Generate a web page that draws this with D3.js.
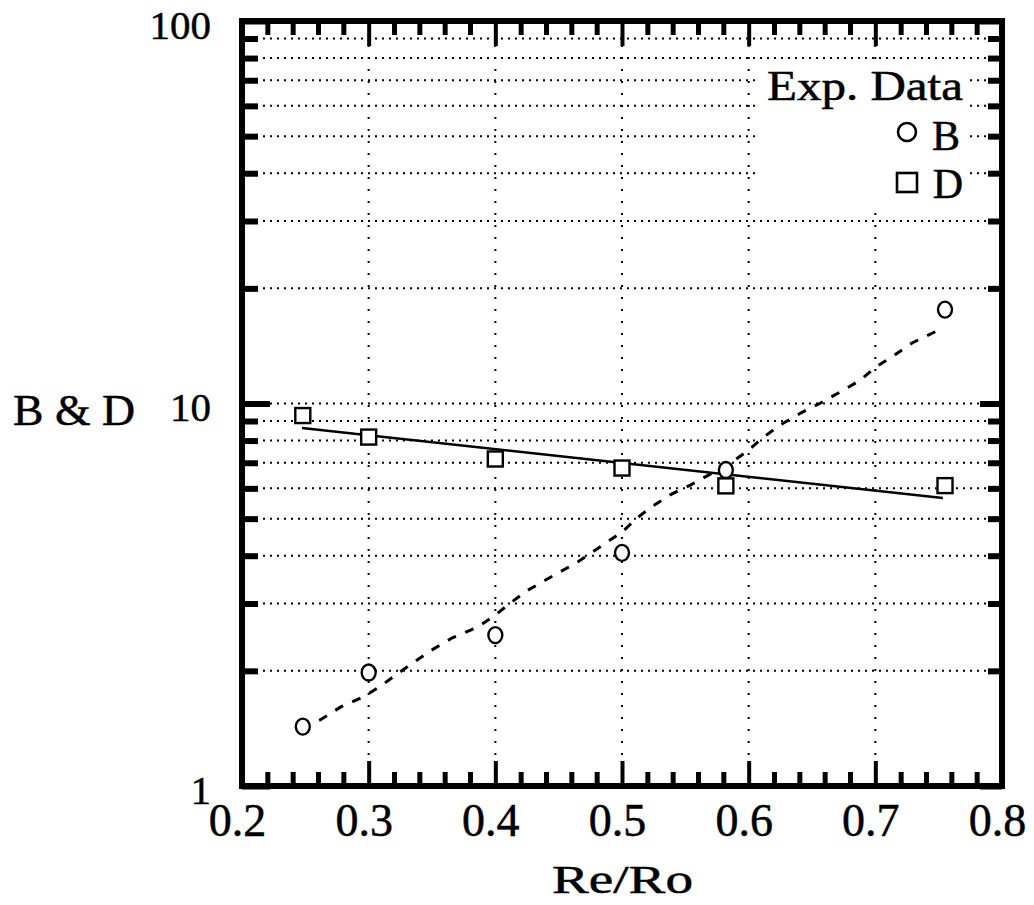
<!DOCTYPE html>
<html>
<head>
<meta charset="utf-8">
<script src="https://cdn.jsdelivr.net/npm/d3@7"></script>
<style>
  html, body { margin: 0; padding: 0; background: #fff; }
  svg { display: block; }
  text { font-family: "Liberation Serif", "Times New Roman", serif; fill: #000; stroke: #000; stroke-width: 0.5; }
</style>
</head>
<body>
<svg id="chart" width="1034" height="905"></svg>
<script>
// ---------------- data ----------------
const xMajorTicks = [0.2, 0.3, 0.4, 0.5, 0.6, 0.7, 0.8];
const xMinorTicks = [0.22, 0.24, 0.26, 0.28, 0.32, 0.34, 0.36, 0.38, 0.42, 0.44, 0.46, 0.48,
                     0.52, 0.54, 0.56, 0.58, 0.62, 0.64, 0.66, 0.68, 0.72, 0.74, 0.76, 0.78];
const xGridValues = [0.3, 0.4, 0.5, 0.6, 0.7];
const yMajorTicks = [1, 10, 100];
const yMinorTicks = [2, 3, 4, 5, 6, 7, 8, 9, 20, 30, 40, 50, 60, 70, 80, 90];
const yGridValues = [2, 3, 4, 5, 6, 7, 8, 9, 10, 20, 30, 40, 50, 60, 70, 80, 90];
const yTickLabels = ["1", "10", "100"];
const xTickLabels = ["0.2", "0.3", "0.4", "0.5", "0.6", "0.7", "0.8"];

// Experimental data
const reRo   = [0.248, 0.300, 0.400, 0.500, 0.582, 0.755];
const bValues = [1.43, 1.98, 2.48, 4.07, 6.70, 17.6];
const dValues = [9.30, 8.17, 7.16, 6.78, 6.09, 6.10];

// Fit curves
const bFitX = [0.255, 0.262, 0.278, 0.296, 0.311, 0.325, 0.337, 0.351, 0.366, 0.386, 0.400, 0.412,
               0.425, 0.440, 0.465, 0.485, 0.500, 0.512, 0.522, 0.538, 0.554, 0.587, 0.600, 0.611,
               0.625, 0.641, 0.656, 0.675, 0.688, 0.701, 0.714, 0.729, 0.749];
const bFitY = [1.46, 1.49, 1.61, 1.71, 1.84, 1.99, 2.12, 2.28, 2.44, 2.60, 2.80, 3.01,
               3.24, 3.46, 3.85, 4.27, 4.61, 5.02, 5.33, 5.77, 6.12, 7.03, 7.56, 8.13,
               8.79, 9.44, 10.0, 10.85, 11.5, 12.5, 13.3, 14.4, 15.5];
const dFitX = [0.2474, 0.7533];
const dFitY = [8.63, 5.66];

const xLabel = "Re/Ro";
const yLabel = "B & D";
const legendTitle = "Exp. Data";
const legendItems = ["B", "D"];

// ---------------- layout ----------------
const svg = d3.select("#chart");
const X0 = 242, X1 = 1002, Y0 = 21, Y1 = 786;
const x = d3.scaleLinear().domain([0.2, 0.8]).range([X0, X1]);
const y = d3.scaleLog().domain([1, 100]).range([Y1, Y0]);

// grid lines
const grid = svg.append("g");
grid.selectAll("line.h").data(yGridValues).join("line")
  .attr("x1", X0).attr("x2", X1)
  .attr("y1", d => y(d)).attr("y2", d => y(d))
  .attr("stroke", "#000").attr("stroke-width", 2)
  .attr("stroke-dasharray", "2,5");
grid.selectAll("line.v").data(xGridValues).join("line")
  .attr("x1", d => x(d)).attr("x2", d => x(d))
  .attr("y1", Y0).attr("y2", Y1)
  .attr("stroke", "#000").attr("stroke-width", 2)
  .attr("stroke-dasharray", "2,10");

// legend background (hides grid behind the legend)
svg.append("rect").attr("x", 755).attr("y", 62).attr("width", 213).attr("height", 143).attr("fill", "#fff");

// axes helper
function styleAxis(g, width) {
  g.select(".domain").remove();
  g.selectAll(".tick line").attr("stroke", "#000").attr("stroke-width", width).attr("stroke-linecap", "butt");
}

// bottom
svg.append("g").attr("transform", `translate(0,${Y1})`)
  .call(d3.axisBottom(x).tickValues(xMinorTicks).tickSize(-14).tickFormat(""))
  .call(g => styleAxis(g, 5));
const bottomMajor = svg.append("g").attr("transform", `translate(0,${Y1})`)
  .call(d3.axisBottom(x).tickValues(xMajorTicks).tickSize(-25).tickPadding(17)
        .tickFormat((d, i) => xTickLabels[i]))
  .call(g => styleAxis(g, 4));
bottomMajor.selectAll("text").attr("font-size", 46).attr("dx", -5)
  .style("font-family", "'Liberation Serif', serif");

// top
svg.append("g").attr("transform", `translate(0,${Y0})`)
  .call(d3.axisTop(x).tickValues(xMinorTicks).tickSize(-14).tickFormat(""))
  .call(g => styleAxis(g, 5));
svg.append("g").attr("transform", `translate(0,${Y0})`)
  .call(d3.axisTop(x).tickValues(xMajorTicks).tickSize(-25).tickFormat(""))
  .call(g => styleAxis(g, 4));

// left
svg.append("g").attr("transform", `translate(${X0},0)`)
  .call(d3.axisLeft(y).tickValues(yMinorTicks).tickSize(-16).tickFormat(""))
  .call(g => styleAxis(g, 6));
const leftMajor = svg.append("g").attr("transform", `translate(${X0},0)`)
  .call(d3.axisLeft(y).tickValues(yMajorTicks).tickSize(-28).tickPadding(31)
        .tickFormat((d, i) => yTickLabels[i]))
  .call(g => styleAxis(g, 6));
leftMajor.selectAll("text").attr("font-size", 41).attr("dy", "0.42em")
  .style("font-family", "'Liberation Serif', serif");

// right
svg.append("g").attr("transform", `translate(${X1},0)`)
  .call(d3.axisRight(y).tickValues(yMinorTicks).tickSize(-14).tickFormat(""))
  .call(g => styleAxis(g, 6));
svg.append("g").attr("transform", `translate(${X1},0)`)
  .call(d3.axisRight(y).tickValues(yMajorTicks).tickSize(-22).tickFormat(""))
  .call(g => styleAxis(g, 6));

// frame
svg.append("rect").attr("x", X0).attr("y", Y0).attr("width", X1 - X0).attr("height", Y1 - Y0)
  .attr("fill", "none").attr("stroke", "#000").attr("stroke-width", 6);

// fit lines
const line = d3.line().x(d => x(d[0])).y(d => y(d[1]));
svg.append("path").datum(bFitX.map((v, i) => [v, bFitY[i]]))
  .attr("d", line).attr("fill", "none").attr("stroke", "#000")
  .attr("stroke-width", 3).attr("stroke-dasharray", "9,10").attr("stroke-dashoffset", -8);
svg.append("path").datum(dFitX.map((v, i) => [v, dFitY[i]]))
  .attr("d", line).attr("fill", "none").attr("stroke", "#000").attr("stroke-width", 2.6);

// markers
svg.append("g").selectAll("ellipse").data(reRo.map((v, i) => [v, bValues[i]])).join("ellipse")
  .attr("cx", d => x(d[0])).attr("cy", d => y(d[1]))
  .attr("rx", 7).attr("ry", 8)
  .attr("fill", "#fff").attr("stroke", "#000").attr("stroke-width", 2.4);
svg.append("g").selectAll("rect").data(reRo.map((v, i) => [v, dValues[i]])).join("rect")
  .attr("x", d => x(d[0]) - 7.5).attr("y", d => y(d[1]) - 7.5)
  .attr("width", 15).attr("height", 15)
  .attr("fill", "#fff").attr("stroke", "#000").attr("stroke-width", 2.4);

// axis titles
svg.append("text").attr("x", 552).attr("y", 893).attr("font-size", 40)
  .attr("textLength", 141).attr("lengthAdjust", "spacingAndGlyphs").text(xLabel);
svg.append("text").attr("x", 13).attr("y", 425).attr("font-size", 45)
  .attr("textLength", 122).attr("lengthAdjust", "spacingAndGlyphs").text(yLabel);

// legend
svg.append("text").attr("x", 767).attr("y", 100).attr("font-size", 42)
  .attr("textLength", 196).attr("lengthAdjust", "spacingAndGlyphs").text(legendTitle);
svg.append("text").attr("x", 960).attr("y", 150).attr("font-size", 42)
  .attr("text-anchor", "end").text(legendItems[0]);
svg.append("text").attr("x", 963).attr("y", 198).attr("font-size", 42)
  .attr("text-anchor", "end").text(legendItems[1]);
svg.append("ellipse").attr("cx", 907).attr("cy", 132).attr("rx", 9).attr("ry", 9)
  .attr("fill", "#fff").attr("stroke", "#000").attr("stroke-width", 2.6);
svg.append("rect").attr("x", 897).attr("y", 173).attr("width", 20).attr("height", 19)
  .attr("fill", "#fff").attr("stroke", "#000").attr("stroke-width", 2.6);
</script>
</body>
</html>
